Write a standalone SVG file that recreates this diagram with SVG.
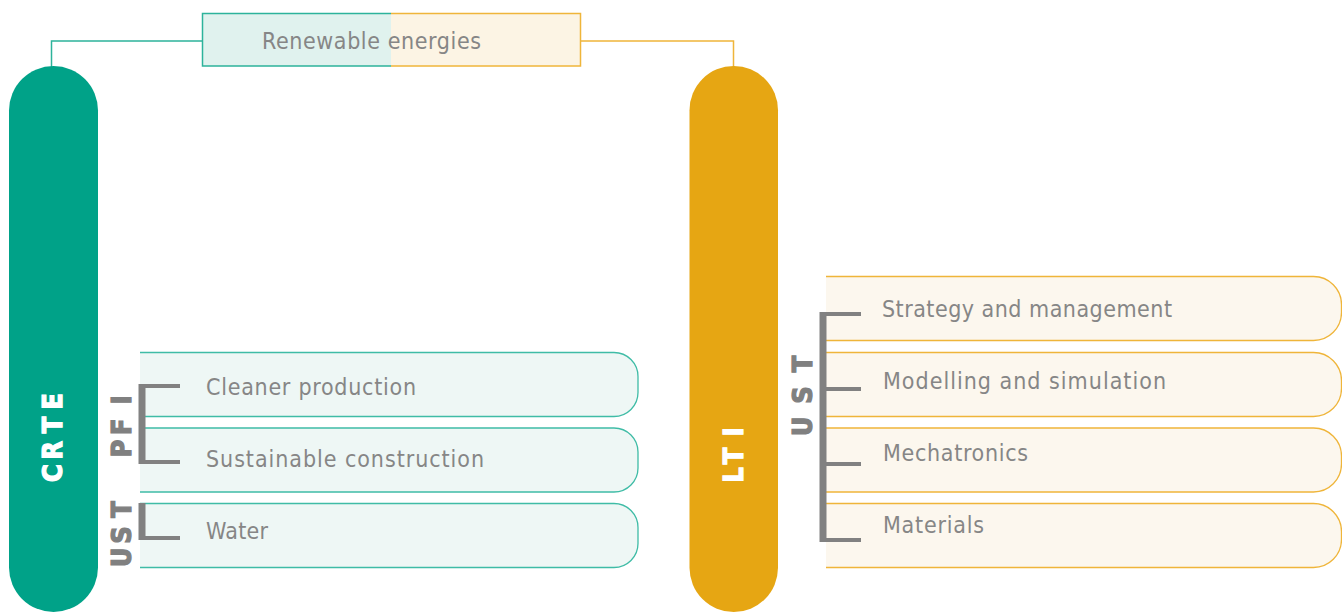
<svg xmlns="http://www.w3.org/2000/svg" width="1342" height="612" viewBox="0 0 1342 612">
<style>
.lbl{font-family:"DejaVu Sans Condensed","Liberation Sans",sans-serif;font-size:23px;fill:#868686}
.tag{font-family:"DejaVu Sans Condensed","Liberation Sans",sans-serif;font-size:27px;font-weight:bold;text-anchor:middle;stroke-width:1.2}
.w{fill:#ffffff;stroke:#ffffff}
.g{fill:#808080;stroke:#808080}
.rowT{fill:#eef7f5;stroke:#3fbca6;stroke-width:1.3}
.rowY{fill:#fcf7ee;stroke:#efb53a;stroke-width:1.3}
.br{fill:#818181}
.cT{fill:none;stroke:#2db39b;stroke-width:1.5}
.cY{fill:none;stroke:#efb53a;stroke-width:1.5}
</style>
<rect width="1342" height="612" fill="#ffffff"/>
<g id="connectors">
<path class="cT" d="M202,41 H51.5 V67"/>
<path class="cY" d="M581,41 H733.5 V67"/>
</g>
<g id="renewable">
<rect x="202.5" y="13.5" width="188.5" height="52.5" fill="#e0f2ee"/>
<rect x="391" y="13.5" width="189.5" height="52.5" fill="#fcf4e4"/>
<path class="cT" d="M391,13.5 H202.5 V66 H391"/>
<path class="cY" d="M391,13.5 H580.5 V66 H391"/>
<text class="lbl" x="262" y="49" textLength="219" lengthAdjust="spacing">Renewable energies</text>
</g>
<g id="crte">
<rect x="9" y="66" width="89" height="546" rx="44.5" fill="#00a288"/>
<text class="tag w" transform="translate(62,0) rotate(-90)" x="-473 -450.5 -425 -401.5" y="0">CRTE</text>
</g>
<g id="lti">
<rect x="689.5" y="66" width="88.5" height="546" rx="44.25" fill="#e6a613"/>
<text class="tag w" transform="translate(743,0) rotate(-90)" x="-475 -456 -432" y="0">LTI</text>
</g>
<g id="cleaner-production">
<path class="rowT" d="M140,352.5 H614 A24,24 0 0 1 638,376.5 V392.5 A24,24 0 0 1 614,416.5 H140"/>
<text class="lbl" x="206" y="395" textLength="210" lengthAdjust="spacing">Cleaner production</text>
</g>
<g id="sustainable-construction">
<path class="rowT" d="M140,428 H614 A24,24 0 0 1 638,452 V468 A24,24 0 0 1 614,492 H140"/>
<text class="lbl" x="206" y="467" textLength="278" lengthAdjust="spacing">Sustainable construction</text>
</g>
<g id="water">
<path class="rowT" d="M140,503.5 H614 A24,24 0 0 1 638,527.5 V543.5 A24,24 0 0 1 614,567.5 H140"/>
<text class="lbl" x="206" y="539" textLength="62" lengthAdjust="spacing">Water</text>
</g>
<g id="pfi-left">
<rect class="br" x="138.5" y="384" width="7" height="80"/>
<rect class="br" x="145" y="384" width="35" height="4"/>
<rect class="br" x="145" y="460" width="35" height="4"/>
<text class="tag g" transform="translate(130.5,0) rotate(-90)" x="-448.5 -427 -400" y="0">PFI</text>
</g>
<g id="ust-left">
<rect class="br" x="138.5" y="503" width="7" height="37"/>
<rect class="br" x="145" y="536" width="35" height="4"/>
<text class="tag g" transform="translate(130.5,0) rotate(-90)" x="-557.5 -535 -509.5" y="0">UST</text>
</g>
<g id="strategy-and-management">
<path class="rowY" d="M826,276.5 H1313.5 A28,28 0 0 1 1341.5,304.5 V312.5 A28,28 0 0 1 1313.5,340.5 H826"/>
<text class="lbl" x="882" y="317" textLength="290" lengthAdjust="spacing">Strategy and management</text>
</g>
<g id="modelling-and-simulation">
<path class="rowY" d="M826,352.5 H1313.5 A28,28 0 0 1 1341.5,380.5 V388.5 A28,28 0 0 1 1313.5,416.5 H826"/>
<text class="lbl" x="883" y="389" textLength="283" lengthAdjust="spacing">Modelling and simulation</text>
</g>
<g id="mechatronics">
<path class="rowY" d="M826,428 H1313.5 A28,28 0 0 1 1341.5,456 V464 A28,28 0 0 1 1313.5,492 H826"/>
<text class="lbl" x="883" y="461" textLength="145" lengthAdjust="spacing">Mechatronics</text>
</g>
<g id="materials">
<path class="rowY" d="M826,503.5 H1313.5 A28,28 0 0 1 1341.5,531.5 V539.5 A28,28 0 0 1 1313.5,567.5 H826"/>
<text class="lbl" x="883" y="533" textLength="101" lengthAdjust="spacing">Materials</text>
</g>
<g id="ust-right">
<rect class="br" x="819.5" y="312" width="7" height="230"/>
<rect class="br" x="826" y="312" width="35" height="4"/>
<rect class="br" x="826" y="387" width="35" height="4"/>
<rect class="br" x="826" y="462" width="35" height="4"/>
<rect class="br" x="826" y="538" width="35" height="4"/>
<text class="tag g" transform="translate(812,0) rotate(-90)" x="-426.5 -395 -364" y="0">UST</text>
</g>
</svg>
